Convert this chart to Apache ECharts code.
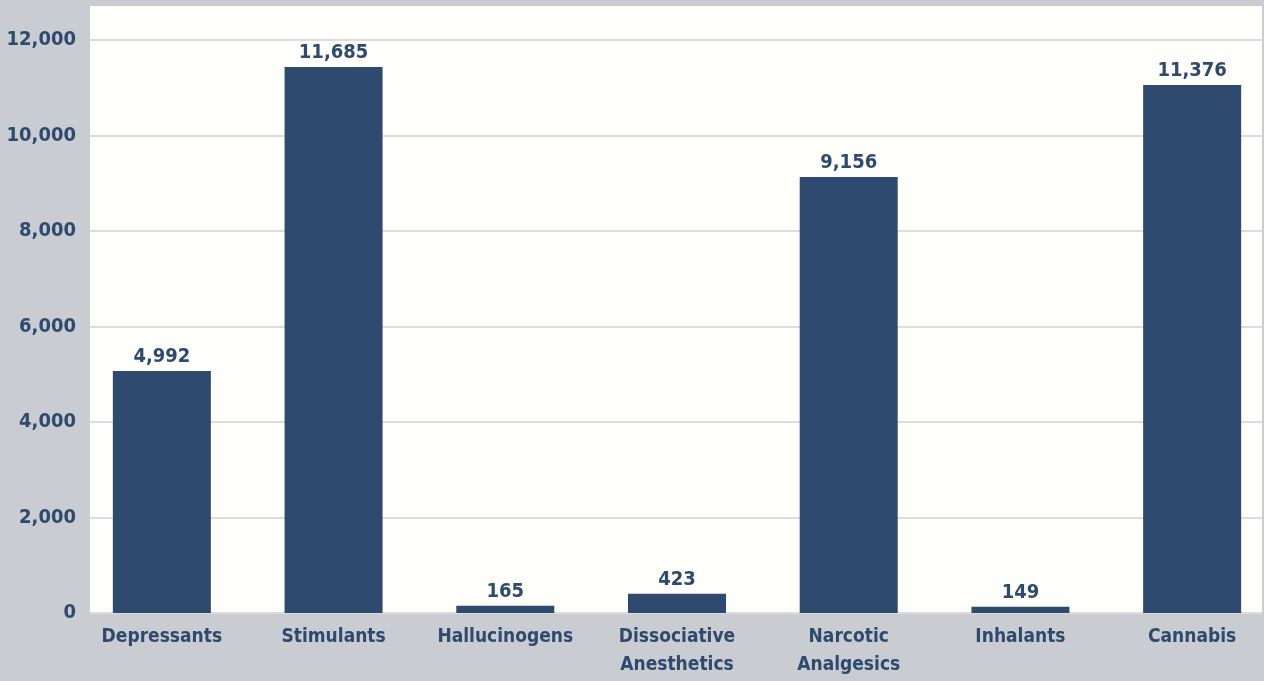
<!DOCTYPE html>
<html>
<head>
<meta charset="utf-8">
<script src="https://cdn.jsdelivr.net/npm/echarts@6/dist/echarts.min.js"></script>
<style>
html,body{margin:0;padding:0;background:#C9CCD0;}
#chart{width:1264px;height:681px;}
</style>
</head>
<body>
<div id="chart"></div>
<script>
const categories = ['Depressants', 'Stimulants', 'Hallucinogens', 'Dissociative\nAnesthetics', 'Narcotic\nAnalgesics', 'Inhalants', 'Cannabis'];
const barValues = [5068, 11434, 150, 402, 9131, 130, 11058];
const valueLabels = ['4,992', '11,685', '165', '423', '9,156', '149', '11,376'];
const yMin = 0, yMax = 12000, yInterval = 2000;

const FONT = "'Liberation Sans Narrow', 'DejaVu Sans Condensed', sans-serif";
const TXT = '#2E4A6E';

const chart = echarts.init(document.getElementById('chart'), null, {renderer: 'canvas'});
chart.setOption({
  backgroundColor: '#C9CCD0',
  animation: false,
  graphic: [{
    type: 'rect', left: 90, top: 6, z: -10,
    shape: {width: 1172, height: 35},
    style: {fill: '#FEFEFA'}
  }],
  grid: [
    {left: 90, top: 40, width: 1172, height: 573, show: true, backgroundColor: '#FEFEFA', borderWidth: 0, containLabel: false, outerBoundsMode: 'none'},
    {left: 76, top: 40, width: 1202, height: 573, containLabel: false, outerBoundsMode: 'none'}
  ],
  xAxis: [
    {gridIndex: 0, type: 'category', data: categories, show: false},
    {
      gridIndex: 1, type: 'category', data: categories,
      axisLine: {show: false}, axisTick: {show: false},
      axisLabel: {interval: 0, color: TXT, fontFamily: FONT, fontWeight: 'bold', fontSize: 19, lineHeight: 28, margin: 10}
    }
  ],
  yAxis: [
    {
      gridIndex: 0, type: 'value', min: yMin, max: yMax, interval: yInterval,
      axisLine: {show: false}, axisTick: {show: false},
      splitLine: {lineStyle: {color: '#DCDCDC', width: 2}},
      axisLabel: {
        color: TXT, fontFamily: FONT, fontWeight: 'bold', fontSize: 20, margin: 14,
        formatter: v => v.toLocaleString('en-US')
      }
    },
    {gridIndex: 1, type: 'value', min: yMin, max: yMax, interval: yInterval, show: false, splitLine: {show: false}}
  ],
  series: [{
    type: 'bar', xAxisIndex: 1, yAxisIndex: 1,
    data: barValues, barWidth: 98,
    itemStyle: {color: '#2E4A6E'},
    label: {
      show: true, position: 'top', distance: 4,
      color: TXT, fontFamily: FONT, fontWeight: 'bold', fontSize: 20,
      formatter: p => valueLabels[p.dataIndex]
    }
  }]
});
</script>
</body>
</html>
